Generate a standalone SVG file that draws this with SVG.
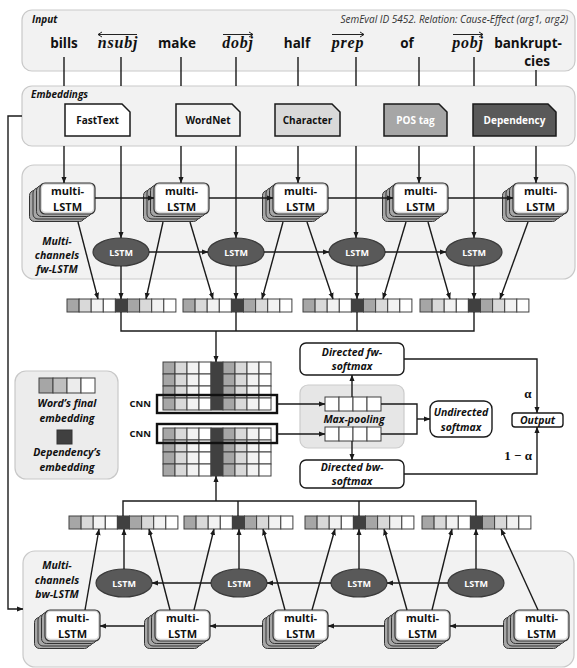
<svg xmlns="http://www.w3.org/2000/svg" xmlns:xlink="http://www.w3.org/1999/xlink" width="577" height="668" viewBox="0 0 577 668">
<style>
.panel{fill:#f2f2f2;stroke:#c9c9c9;stroke-width:1.2}
.lbl{font-family:"Open Sans","Liberation Sans",sans-serif;font-weight:bold;font-style:italic;fill:#111}
.b{font-family:"Open Sans","Liberation Sans",sans-serif;font-weight:bold;fill:#111}
.word{font-family:"Open Sans","Liberation Sans",sans-serif;font-weight:bold;font-size:13.5px;fill:#111;text-anchor:middle}
.dep{font-family:"Liberation Serif","DejaVu Serif",serif;font-weight:bold;font-style:italic;font-size:16px;letter-spacing:0.8px;fill:#111;text-anchor:middle}
.emb{stroke:#1a1a1a;stroke-width:1.5}
.embt{font-family:"Open Sans","Liberation Sans",sans-serif;font-weight:bold;font-size:10px;text-anchor:middle}
.mt{font-family:"Open Sans","Liberation Sans",sans-serif;font-weight:bold;font-size:11px;fill:#111;text-anchor:middle}
.ell{fill:#595959;stroke:#3a3a3a;stroke-width:1.2}
.ellt{font-family:"Open Sans","Liberation Sans",sans-serif;font-weight:bold;font-size:9px;fill:#fff;text-anchor:middle}
.c{fill:none;stroke:#1a1a1a;stroke-width:1.4}
.ca{fill:none;stroke:#1a1a1a;stroke-width:1.4;marker-end:url(#ah)}
.cell{stroke:#404040;stroke-width:1}
.box{fill:#fff;stroke:#1a1a1a;stroke-width:1.4}
.sel{fill:none;stroke:#111;stroke-width:2.4}
.math{font-family:"Liberation Serif","DejaVu Serif",serif;font-weight:bold;font-size:13px;fill:#111}
</style>
<defs>
<marker id="ah" viewBox="0 0 10 10" refX="9.5" refY="5" markerWidth="6.5" markerHeight="6.5" markerUnits="userSpaceOnUse" orient="auto">
<path d="M0,1 L10,5 L0,9 z" fill="#1a1a1a"/>
</marker>
<g id="mstack">
<rect x="-10.5" y="7.5" width="55" height="31" rx="5" fill="#a6a6a6" stroke="#333" stroke-width="1"/>
<rect x="-7" y="5" width="55" height="31" rx="5" fill="#a6a6a6" stroke="#333" stroke-width="1"/>
<rect x="-3.5" y="2.5" width="55" height="31" rx="5" fill="#a6a6a6" stroke="#333" stroke-width="1"/>
<rect x="0" y="0" width="55" height="31" rx="5" fill="#d6d6d6" stroke="#333" stroke-width="1.2"/>
<rect x="2" y="1.8" width="51" height="27" rx="3.5" fill="#fff"/>
</g>
<g id="vrow">
<rect class="cell" x="0" y="0" width="12.1" height="13" fill="#a6a6a6"/>
<rect class="cell" x="12.1" y="0" width="12.1" height="13" fill="#d9d9d9"/>
<rect class="cell" x="24.2" y="0" width="12.1" height="13" fill="#f2f2f2"/>
<rect class="cell" x="36.3" y="0" width="12.1" height="13" fill="#ffffff"/>
<rect class="cell" x="48.4" y="0" width="12.1" height="13" fill="#404040"/>
<rect class="cell" x="60.5" y="0" width="12.1" height="13" fill="#a6a6a6"/>
<rect class="cell" x="72.6" y="0" width="12.1" height="13" fill="#d9d9d9"/>
<rect class="cell" x="84.7" y="0" width="12.1" height="13" fill="#f2f2f2"/>
<rect class="cell" x="96.8" y="0" width="12.1" height="13" fill="#ffffff"/>
</g>
<g id="mrow">
<rect class="cell" x="0" y="0" width="12" height="12" fill="#a6a6a6"/>
<rect class="cell" x="12" y="0" width="12" height="12" fill="#d9d9d9"/>
<rect class="cell" x="24" y="0" width="12" height="12" fill="#f2f2f2"/>
<rect class="cell" x="36" y="0" width="12" height="12" fill="#ffffff"/>
<rect class="cell" x="48" y="0" width="12" height="12" fill="#404040"/>
<rect class="cell" x="60" y="0" width="12" height="12" fill="#a6a6a6"/>
<rect class="cell" x="72" y="0" width="12" height="12" fill="#d9d9d9"/>
<rect class="cell" x="84" y="0" width="12" height="12" fill="#f2f2f2"/>
<rect class="cell" x="96" y="0" width="12" height="12" fill="#ffffff"/>
</g>
<g id="prow">
<rect class="cell" x="0" y="0" width="14" height="14" fill="#fff"/>
<rect class="cell" x="14" y="0" width="14" height="14" fill="#fff"/>
<rect class="cell" x="28" y="0" width="14" height="14" fill="#fff"/>
<rect class="cell" x="42" y="0" width="14" height="14" fill="#fff"/>
</g>
</defs>

<rect width="577" height="668" fill="#fff"/>

<!-- panels -->
<g id="input-panel">
<rect class="panel" x="22" y="10" width="553" height="61" rx="10"/>
<text class="lbl" x="32" y="23" font-size="10">Input</text>
<text x="568" y="23" font-family="Open Sans, Liberation Sans, sans-serif" font-style="italic" font-size="10" fill="#333" text-anchor="end">SemEval ID 5452. Relation: Cause-Effect (arg1, arg2)</text>
</g>
<g id="embeddings-panel">
<rect class="panel" x="22" y="86" width="553" height="60" rx="10"/>
<text class="lbl" x="31" y="98" font-size="10">Embeddings</text>
</g>
<g id="fw-panel">
<rect class="panel" x="22" y="165" width="553" height="114" rx="12"/>
<text class="lbl" x="57" y="245" font-size="10.5" text-anchor="middle">Multi-</text>
<text class="lbl" x="57" y="259" font-size="10.5" text-anchor="middle">channels</text>
<text class="lbl" x="57" y="273" font-size="10.5" text-anchor="middle">fw-LSTM</text>
</g>
<g id="bw-panel">
<rect class="panel" x="23" y="551" width="551" height="116" rx="12"/>
<text class="lbl" x="57" y="569" font-size="10.5" text-anchor="middle">Multi-</text>
<text class="lbl" x="57" y="584" font-size="10.5" text-anchor="middle">channels</text>
<text class="lbl" x="57" y="598" font-size="10.5" text-anchor="middle">bw-LSTM</text>
</g>
<g id="maxpool-panel">
<rect x="300" y="385" width="104" height="63" rx="8" fill="#e6e6e6" stroke="#cccccc" stroke-width="1.2"/>
<text class="lbl" x="354" y="423" font-size="10.5" text-anchor="middle">Max-pooling</text>
</g>
<g id="legend">
<rect x="15" y="371" width="103" height="108" rx="11" fill="#ececec" stroke="#c8c8c8" stroke-width="1.2"/>
<rect class="cell" x="39" y="378" width="14" height="15" fill="#a6a6a6"/>
<rect class="cell" x="53" y="378" width="14" height="15" fill="#bfbfbf"/>
<rect class="cell" x="67" y="378" width="14" height="15" fill="#ececec"/>
<rect class="cell" x="81" y="378" width="14" height="15" fill="#ffffff"/>
<text class="lbl" x="67" y="407" font-size="10.5" text-anchor="middle">Word’s final</text>
<text class="lbl" x="67" y="422" font-size="10.5" text-anchor="middle">embedding</text>
<rect x="57" y="430" width="15" height="14" fill="#404040" stroke="#333"/>
<text class="lbl" x="67" y="456" font-size="10.5" text-anchor="middle">Dependency’s</text>
<text class="lbl" x="67" y="471" font-size="10.5" text-anchor="middle">embedding</text>
</g>

<!-- input words -->
<g id="words">
<text class="word" x="64" y="48">bills</text>
<text class="dep" x="118" y="48">nsubj</text>
<path d="M98,34.5 H137 M98,34.5 L102,32 M98,34.5 L102,37" stroke="#222" stroke-width="1" fill="none"/>
<text class="word" x="177" y="48">make</text>
<text class="dep" x="238" y="48">dobj</text>
<path d="M223,34.5 H253 M253,34.5 L249,32 M253,34.5 L249,37" stroke="#222" stroke-width="1" fill="none"/>
<text class="word" x="297" y="48">half</text>
<text class="dep" x="348" y="48">prep</text>
<path d="M332,34.5 H364 M364,34.5 L360,32 M364,34.5 L360,37" stroke="#222" stroke-width="1" fill="none"/>
<text class="word" x="407" y="48">of</text>
<text class="dep" x="468" y="48">pobj</text>
<path d="M453,34.5 H483 M483,34.5 L479,32 M483,34.5 L479,37" stroke="#222" stroke-width="1" fill="none"/>
<text class="word" x="528" y="48">bankrupt-</text>
<text class="word" x="537" y="66">cies</text>
</g>

<!-- embeddings -->
<g id="emb-fasttext">
<polygon class="emb" points="65,104 122,104 130,112 130,136 65,136" fill="#ffffff"/>
<text class="embt" x="97.5" y="124" fill="#111">FastText</text>
</g>
<g id="emb-wordnet">
<polygon class="emb" points="176,104 232,104 240,112 240,136 176,136" fill="#f2f2f2"/>
<text class="embt" x="208" y="124" fill="#111">WordNet</text>
</g>
<g id="emb-character">
<polygon class="emb" points="275,104 332,104 340,112 340,136 275,136" fill="#d9d9d9"/>
<text class="embt" x="307.5" y="124" fill="#111">Character</text>
</g>
<g id="emb-pos">
<polygon class="emb" points="384,104 439,104 447,112 447,136 384,136" fill="#a6a6a6"/>
<text class="embt" x="415.5" y="124" fill="#fff">POS tag</text>
</g>
<g id="emb-dependency">
<polygon class="emb" points="473,104 548,104 556,112 556,136 473,136" fill="#595959"/>
<text class="embt" x="514.5" y="124" fill="#fff">Dependency</text>
</g>

<!-- fw multi-LSTM -->
<g id="fw-m1"><use xlink:href="#mstack" x="40" y="183"/><text class="mt" x="67.5" y="195">multi-</text><text class="mt" x="67.5" y="211">LSTM</text></g>
<g id="fw-m2"><use xlink:href="#mstack" x="154" y="183"/><text class="mt" x="181.5" y="195">multi-</text><text class="mt" x="181.5" y="211">LSTM</text></g>
<g id="fw-m3"><use xlink:href="#mstack" x="273" y="183"/><text class="mt" x="300.5" y="195">multi-</text><text class="mt" x="300.5" y="211">LSTM</text></g>
<g id="fw-m4"><use xlink:href="#mstack" x="393" y="183"/><text class="mt" x="420.5" y="195">multi-</text><text class="mt" x="420.5" y="211">LSTM</text></g>
<g id="fw-m5"><use xlink:href="#mstack" x="513" y="183"/><text class="mt" x="540.5" y="195">multi-</text><text class="mt" x="540.5" y="211">LSTM</text></g>

<!-- fw LSTM -->
<g id="fw-l1"><ellipse class="ell" cx="121" cy="252" rx="28" ry="14"/><text class="ellt" x="121" y="255.5">LSTM</text></g>
<g id="fw-l2"><ellipse class="ell" cx="236" cy="252" rx="28" ry="14"/><text class="ellt" x="236" y="255.5">LSTM</text></g>
<g id="fw-l3"><ellipse class="ell" cx="357" cy="252" rx="28" ry="14"/><text class="ellt" x="357" y="255.5">LSTM</text></g>
<g id="fw-l4"><ellipse class="ell" cx="474" cy="252" rx="28" ry="14"/><text class="ellt" x="474" y="255.5">LSTM</text></g>

<!-- fw vectors -->
<g id="fw-v1"><use xlink:href="#vrow" x="67" y="299"/></g>
<g id="fw-v2"><use xlink:href="#vrow" x="183" y="299"/></g>
<g id="fw-v3"><use xlink:href="#vrow" x="303" y="299"/></g>
<g id="fw-v4"><use xlink:href="#vrow" x="420" y="299"/></g>

<!-- CNN matrices -->
<g id="cnn-top">
<use xlink:href="#mrow" x="163" y="362"/>
<use xlink:href="#mrow" x="163" y="374"/>
<use xlink:href="#mrow" x="163" y="386"/>
<use xlink:href="#mrow" x="163" y="398"/>
<rect class="sel" x="157" y="395" width="120" height="18"/>
<text class="b" x="151" y="407" font-size="9.5" text-anchor="end">CNN</text>
</g>
<g id="cnn-bottom">
<use xlink:href="#mrow" x="163" y="428"/>
<use xlink:href="#mrow" x="163" y="440"/>
<use xlink:href="#mrow" x="163" y="452"/>
<use xlink:href="#mrow" x="163" y="464"/>
<rect class="sel" x="157" y="424" width="120" height="19"/>
<text class="b" x="151" y="437" font-size="9.5" text-anchor="end">CNN</text>
</g>

<!-- pooling vectors -->
<g id="pool-top"><use xlink:href="#prow" x="325" y="397"/></g>
<g id="pool-bottom"><use xlink:href="#prow" x="325" y="427"/></g>

<!-- softmax boxes -->
<g id="fw-softmax">
<rect class="box" x="300" y="343" width="104" height="32" rx="6"/>
<text class="lbl" x="352" y="356" font-size="10.5" text-anchor="middle">Directed fw-</text>
<text class="lbl" x="352" y="370" font-size="10.5" text-anchor="middle">softmax</text>
</g>
<g id="bw-softmax">
<rect class="box" x="300" y="460" width="104" height="28" rx="6"/>
<text class="lbl" x="352" y="471" font-size="10.5" text-anchor="middle">Directed bw-</text>
<text class="lbl" x="352" y="485" font-size="10.5" text-anchor="middle">softmax</text>
</g>
<g id="undirected-softmax">
<rect class="box" x="430" y="401" width="62" height="36" rx="8"/>
<text class="lbl" x="461" y="416" font-size="10.5" text-anchor="middle">Undirected</text>
<text class="lbl" x="461" y="431" font-size="10.5" text-anchor="middle">softmax</text>
</g>
<g id="output">
<rect class="box" x="512" y="413" width="51" height="14" rx="3"/>
<text class="lbl" x="537.5" y="424" font-size="10.5" text-anchor="middle">Output</text>
</g>

<!-- bw vectors -->
<g id="bw-v1"><use xlink:href="#vrow" x="69" y="516"/></g>
<g id="bw-v2"><use xlink:href="#vrow" x="184" y="516"/></g>
<g id="bw-v3"><use xlink:href="#vrow" x="305" y="516"/></g>
<g id="bw-v4"><use xlink:href="#vrow" x="422" y="516"/></g>

<!-- bw LSTM -->
<g id="bw-l1"><ellipse class="ell" cx="124" cy="583" rx="28" ry="14"/><text class="ellt" x="124" y="586.5">LSTM</text></g>
<g id="bw-l2"><ellipse class="ell" cx="239" cy="583" rx="28" ry="14"/><text class="ellt" x="239" y="586.5">LSTM</text></g>
<g id="bw-l3"><ellipse class="ell" cx="359" cy="583" rx="28" ry="14"/><text class="ellt" x="359" y="586.5">LSTM</text></g>
<g id="bw-l4"><ellipse class="ell" cx="476" cy="583" rx="28" ry="14"/><text class="ellt" x="476" y="586.5">LSTM</text></g>

<!-- bw multi-LSTM -->
<g id="bw-m1"><use xlink:href="#mstack" x="45" y="610"/><text class="mt" x="72.5" y="622">multi-</text><text class="mt" x="72.5" y="638">LSTM</text></g>
<g id="bw-m2"><use xlink:href="#mstack" x="155" y="610"/><text class="mt" x="182.5" y="622">multi-</text><text class="mt" x="182.5" y="638">LSTM</text></g>
<g id="bw-m3"><use xlink:href="#mstack" x="273" y="610"/><text class="mt" x="300.5" y="622">multi-</text><text class="mt" x="300.5" y="638">LSTM</text></g>
<g id="bw-m4"><use xlink:href="#mstack" x="395" y="610"/><text class="mt" x="422.5" y="622">multi-</text><text class="mt" x="422.5" y="638">LSTM</text></g>
<g id="bw-m5"><use xlink:href="#mstack" x="514" y="610"/><text class="mt" x="541.5" y="622">multi-</text><text class="mt" x="541.5" y="638">LSTM</text></g>

<!-- connectors -->
<g id="connectors">
<path class="c" d="M64,57 V86 M121,57 V86 M181,57 V86 M236,57 V86 M298,57 V86 M356,57 V86 M419,57 V86 M474,57 V86 M536,70 V86"/>
<path class="ca" d="M64,146 V183"/>
<path class="ca" d="M181,146 V183"/>
<path class="ca" d="M298,146 V183"/>
<path class="ca" d="M419,146 V183"/>
<path class="ca" d="M536,146 V183"/>
<path class="ca" d="M121,146 V238"/>
<path class="ca" d="M236,146 V238"/>
<path class="ca" d="M356,146 V238"/>
<path class="ca" d="M474,146 V238"/>
<path class="ca" d="M95,198 H154"/>
<path class="ca" d="M209,198 H273"/>
<path class="ca" d="M328,198 H393"/>
<path class="ca" d="M448,198 H513"/>
<path class="ca" d="M149,252 H208"/>
<path class="ca" d="M264,252 H329"/>
<path class="ca" d="M385,252 H446"/>
<path class="ca" d="M78,222 L98,299"/>
<path class="ca" d="M121,266 V299"/>
<path class="ca" d="M163,222 L146,299"/>
<path class="ca" d="M190,222 L213,299"/>
<path class="ca" d="M236,266 V299"/>
<path class="ca" d="M283,222 L262,299"/>
<path class="ca" d="M307,222 L333,299"/>
<path class="ca" d="M357,266 V299"/>
<path class="ca" d="M406,222 L383,299"/>
<path class="ca" d="M428,222 L450,299"/>
<path class="ca" d="M474,266 V299"/>
<path class="ca" d="M528,222 L500,299"/>
<path class="c" d="M121,312 V331 H474 V312 M236,312 V331 M357,312 V331"/>
<path class="ca" d="M216,331 V362"/>
<path class="c" d="M123,516 V501 H476 V516 M238,516 V501 M359,516 V501"/>
<path class="ca" d="M216,501 V476"/>
<path class="ca" d="M277,404 H325"/>
<path class="ca" d="M277,434 H325"/>
<path class="ca" d="M352,397 V375"/>
<path class="ca" d="M352,441 V460"/>
<path class="c" d="M381,404 H417 V434 H381"/>
<path class="ca" d="M417,419 H430"/>
<path class="ca" d="M404,359 H537 V413"/>
<path class="ca" d="M404,474 H537 V427"/>
<path class="ca" d="M22,116 H8 V609 H23"/>
<path class="ca" d="M124,569 V529"/>
<path class="ca" d="M239,569 V529"/>
<path class="ca" d="M359,569 V529"/>
<path class="ca" d="M476,569 V529"/>
<path class="ca" d="M211,583 H152"/>
<path class="ca" d="M331,583 H267"/>
<path class="ca" d="M448,583 H387"/>
<path class="ca" d="M503.5,626 H450"/>
<path class="ca" d="M384.5,626 H328"/>
<path class="ca" d="M262.5,626 H210"/>
<path class="ca" d="M144.5,626 H100"/>
<path class="ca" d="M85,610 L99,529"/>
<path class="ca" d="M170,610 L149,529"/>
<path class="ca" d="M194,610 L214,529"/>
<path class="ca" d="M285,610 L263,529"/>
<path class="ca" d="M312,610 L335,529"/>
<path class="ca" d="M407,610 L384,529"/>
<path class="ca" d="M432,610 L452,529"/>
<path class="ca" d="M538,610 L501,529"/>
</g>

<g id="weights">
<text class="math" x="528" y="398" text-anchor="middle">α</text>
<text class="math" x="532" y="460" text-anchor="end">1 − α</text>
</g>
</svg>
